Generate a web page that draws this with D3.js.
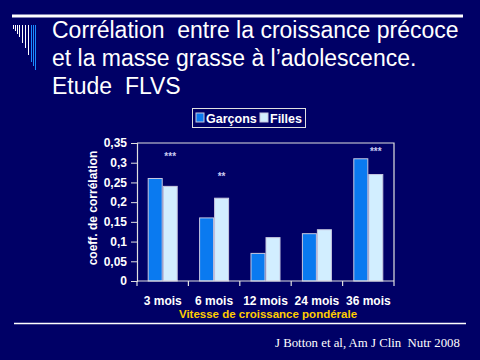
<!DOCTYPE html>
<html><head><meta charset="utf-8">
<script src="https://cdn.jsdelivr.net/npm/d3@7"></script>
<style>html,body{margin:0;padding:0;background:#000066;}svg{display:block;}</style>
</head><body>
<script>
const categories = ["3 mois","6 mois","12 mois","24 mois","36 mois"];
const seriesNames = ["Garçons","Filles"];
const garcons = [0.26, 0.16, 0.07, 0.12, 0.31];
const filles = [0.24, 0.21, 0.11, 0.13, 0.27];
const stars = ["***","**","","","***"];
const starLevel = [0.32, 0.27, 0, 0, 0.333];
const yTicks = [0,0.05,0.1,0.15,0.2,0.25,0.3,0.35];
const colors = ["#0a7af0","#d2eeff"];

const W=480,H=360;
const svg=d3.select("body").append("svg").attr("width",W).attr("height",H);
svg.append("rect").attr("width",W).attr("height",H).attr("fill","#000066");

// decorations
svg.append("rect").attr("x",12).attr("y",14.5).attr("width",451).attr("height",3).attr("fill","#fff");
svg.append("line").attr("x1",14).attr("x2",466).attr("y1",323.5).attr("y2",323.5).attr("stroke","#fff").attr("stroke-width",1.5);
const deco=[[13.5,29,"#fff"],[15.5,31,"#fff"],[17.5,34,"#fff"],[19.5,37,"#fff"],[22.5,43,"#fff"],[25.5,48,"#fff"],[28.5,55,"#fff"],[31.5,62,"#1a8cff"],[33.5,66,"#1a8cff"],[35.5,70,"#1a8cff"]];
deco.forEach(d=>svg.append("line").attr("x1",d[0]).attr("x2",d[0]).attr("y1",25).attr("y2",d[1]).attr("stroke",d[2]).attr("stroke-width",1));

const title=["Corrélation  entre la croissance précoce","et la masse grasse à l’adolescence.","Etude  FLVS"];
svg.append("g").selectAll("text").data(title).join("text")
  .attr("x",52).attr("y",(d,i)=>38+i*28).attr("fill","#fff")
  .attr("font-family","Liberation Sans, Arial, sans-serif").attr("font-size",23)
  .style("white-space","pre").text(d=>d);

// chart
const x0=137,x1=394,yTop=143,yBot=281;
const x=d3.scaleBand().domain(categories).range([x0,x1]);
const xs=d3.scaleBand().domain(seriesNames).range([0,30]);
const y=d3.scaleLinear().domain([0,0.35]).range([yBot,yTop]);

// frame
svg.append("path").attr("d",`M${x0},${yTop}H${x1}V${yBot}`).attr("fill","none").attr("stroke","#e0e0e0").attr("stroke-width",1.2);

const data=categories.map((c,i)=>({c,vals:[garcons[i],filles[i]]}));
const g=svg.append("g");
data.forEach(d=>{
  d.vals.forEach((v,j)=>{
    g.append("rect")
      .attr("x",x(d.c)+(x.bandwidth()-30)/2+xs(seriesNames[j])+0.5)
      .attr("y",y(v)).attr("width",xs.bandwidth()-1).attr("height",yBot-y(v))
      .attr("fill",colors[j]).attr("stroke","#c8c8e0").attr("stroke-width",1);
  });
});

// stars (centered above the Filles bar)
svg.append("g").selectAll("text").data(categories.map((c,i)=>({c,s:stars[i],v:starLevel[i]})).filter(d=>d.s)).join("text")
  .attr("x",d=>x(d.c)+(x.bandwidth()-30)/2+xs("Filles")+xs.bandwidth()/2).attr("y",d=>y(d.v)+5)
  .attr("text-anchor","middle").attr("fill","#c8c8ee")
  .attr("font-family","Liberation Sans, Arial, sans-serif").attr("font-size",10).attr("font-weight","bold")
  .text(d=>d.s);

// y axis
const fmt=d=>d===0?"0":String(d).replace(".",",");
const yAxis=svg.append("g").attr("transform",`translate(${x0},0)`)
  .call(d3.axisLeft(y).tickValues(yTicks).tickFormat(fmt).tickSize(6).tickPadding(4));
yAxis.select(".domain").attr("stroke","#e0e0e0").attr("stroke-width",1.2);
yAxis.selectAll(".tick line").attr("stroke","#e0e0e0");
yAxis.selectAll("text").attr("fill","#fff").attr("font-family","Liberation Sans, Arial, sans-serif").attr("font-size",12).attr("font-weight","bold");

// x axis
const xAxis=svg.append("g").attr("transform",`translate(0,${yBot})`)
  .call(d3.axisBottom(x).tickSize(0).tickPadding(15));
xAxis.select(".domain").attr("stroke","#e0e0e0").attr("stroke-width",1.2).attr("d",`M${x0},0H${x1}`);
xAxis.selectAll("text").attr("fill","#fff").attr("font-family","Liberation Sans, Arial, sans-serif").attr("font-size",12).attr("font-weight","bold");
const bounds=categories.map(c=>x(c)).concat([x1]);
svg.append("g").selectAll("line").data(bounds).join("line")
  .attr("x1",d=>d).attr("x2",d=>d).attr("y1",yBot).attr("y2",yBot+5).attr("stroke","#e0e0e0").attr("stroke-width",1.2);

svg.append("text").attr("x",268).attr("y",318).attr("text-anchor","middle").attr("fill","#ffcc00")
  .attr("font-family","Liberation Sans, Arial, sans-serif").attr("font-size",11.5).attr("font-weight","bold")
  .text("Vitesse de croissance pondérale");

svg.append("text").attr("transform","translate(97,208) rotate(-90)").attr("text-anchor","middle").attr("fill","#fff")
  .attr("font-family","Liberation Sans, Arial, sans-serif").attr("font-size",12).attr("font-weight","bold")
  .text("coeff. de corrélation");

// legend
const lg=svg.append("g");
lg.append("rect").attr("x",192.5).attr("y",108.5).attr("width",113).attr("height",19).attr("fill","none").attr("stroke","#e0e0e0").attr("stroke-width",1);
const legX=[196,260];
seriesNames.forEach((n,i)=>{
  lg.append("rect").attr("x",legX[i]).attr("y",113).attr("width",8).attr("height",9).attr("fill",colors[i]).attr("stroke","#c8c8e0");
  lg.append("text").attr("x",legX[i]+10).attr("y",122.5).attr("fill","#fff")
    .attr("font-family","Liberation Sans, Arial, sans-serif").attr("font-size",12.5).attr("font-weight","bold").text(n);
});

svg.append("text").attr("x",275).attr("y",347).attr("fill","#fff")
  .attr("font-family","Liberation Serif, Times New Roman, serif").attr("font-size",12.8).style("white-space","pre")
  .text("J Botton et al, Am J Clin  Nutr 2008");
</script>
</body></html>
